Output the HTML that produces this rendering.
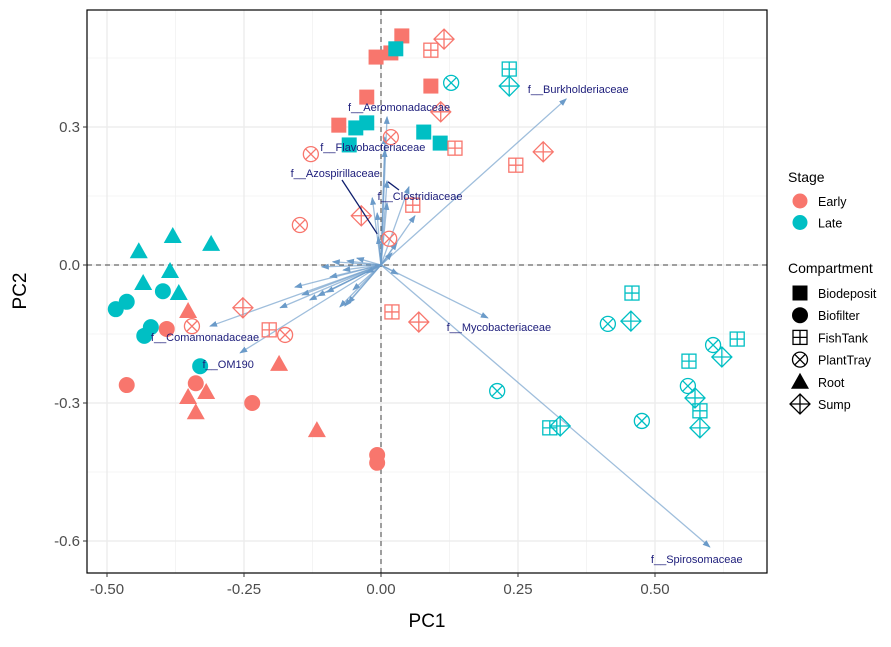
<!DOCTYPE html>
<html><head><meta charset="utf-8"><style>
body{margin:0;background:#fff;}
svg text{font-family:"Liberation Sans",Arial,sans-serif;}
</style></head><body>
<svg id="chart" width="891" height="642" xmlns="http://www.w3.org/2000/svg">
<g id="grid"></g>
<g id="refl"></g>
<g id="arrows"></g>
<g id="pts"></g>
<g id="labels"></g>
<rect x="87" y="10" width="680" height="563" fill="none" stroke="#000" stroke-width="1.2"/>
<g id="axes"></g>
<text x="427" y="627" font-size="19" text-anchor="middle" fill="#000">PC1</text>
<text x="0" y="0" font-size="19" text-anchor="middle" fill="#000" transform="translate(26,291) rotate(-90)">PC2</text>
<g id="legend"></g>
</svg>
<script>
const xTicks=[-0.5,-0.25,0,0.25,0.5];
const xTickLabels=["-0.50","-0.25","0.00","0.25","0.50"];
const yTicks=[0.3,0,-0.3,-0.6];
const yTickLabels=["0.3","0.0","-0.3","-0.6"];
const stages=["Early","Late"];
const compartments=["Biodeposit","Biofilter","FishTank","PlantTray","Root","Sump"];
// [compartment, stage, PC1, PC2]
const earlyBiodeposit=[[0.038,0.498],[0.018,0.461],[-0.009,0.452],[-0.026,0.365],[0.091,0.389],[-0.077,0.304]];
const lateBiodeposit=[[0.027,0.470],[-0.026,0.309],[-0.046,0.298],[-0.058,0.261],[0.078,0.289],[0.108,0.265]];
const earlyBiofilter=[[-0.391,-0.139],[-0.464,-0.261],[-0.338,-0.257],[-0.235,-0.300],[-0.007,-0.413],[-0.007,-0.430]];
const lateBiofilter=[[-0.484,-0.096],[-0.464,-0.080],[-0.398,-0.057],[-0.420,-0.135],[-0.432,-0.154],[-0.330,-0.220]];
const earlyRoot=[[-0.352,-0.100],[-0.186,-0.215],[-0.352,-0.287],[-0.319,-0.276],[-0.338,-0.320],[-0.117,-0.359]];
const lateRoot=[[-0.442,0.030],[-0.380,0.063],[-0.310,0.046],[-0.385,-0.013],[-0.434,-0.039],[-0.369,-0.061]];
const earlyFishTank=[[0.091,0.467],[0.135,0.254],[0.246,0.217],[0.058,0.130],[0.020,-0.102],[-0.204,-0.141]];
const lateFishTank=[[0.234,0.426],[0.458,-0.061],[0.650,-0.161],[0.562,-0.209],[0.582,-0.317],[0.308,-0.354]];
const earlyPlantTray=[[-0.128,0.241],[0.018,0.278],[-0.148,0.087],[0.015,0.057],[-0.345,-0.133],[-0.175,-0.152]];
const latePlantTray=[[0.128,0.396],[0.414,-0.128],[0.606,-0.174],[0.560,-0.263],[0.476,-0.339],[0.212,-0.274]];
const earlySump=[[0.115,0.491],[0.109,0.333],[0.296,0.246],[-0.036,0.107],[-0.252,-0.093],[0.069,-0.124]];
const lateSump=[[0.234,0.389],[0.456,-0.122],[0.622,-0.200],[0.573,-0.289],[0.582,-0.354],[0.327,-0.350]];
const loadingNames=["f__Burkholderiaceae","f__Spirosomaceae","f__Mycobacteriaceae","f__Comamonadaceae","f__OM190","f__Aeromonadaceae","f__Flavobacteriaceae","f__Clostridiaceae","f__Azospirillaceae"];
const loadingPC1=[0.338,0.600,0.195,-0.312,-0.257,0.011,0.007,0.011,-0.005];
const loadingPC2=[0.361,-0.613,-0.115,-0.133,-0.191,0.322,0.278,0.183,0.061];
const otherLoadings=[[-0.157,-0.048],[-0.184,-0.093],[-0.144,-0.065],[-0.115,-0.067],[-0.099,-0.059],[-0.075,-0.091],[-0.066,-0.089],[-0.051,-0.054],[-0.108,-0.004],[-0.088,0.007],[-0.062,0.009],[-0.044,0.015],[-0.069,-0.011],[-0.093,-0.026],[-0.026,-0.017],[0.031,-0.020],[0.020,0.026],[0.029,0.048],[0.062,0.107],[-0.007,0.113],[0.011,0.135],[-0.016,0.146],[0.051,0.170],[-0.060,-0.083],[-0.130,-0.076],[0.007,0.250]];

const NS="http://www.w3.org/2000/svg";
const X=v=>381+v*548, Y=v=>265-v*460;
const L=87,R=767,T=10,B=573;
const col={Early:"#F8766D",Late:"#00BFC4"};
function mk(tag,attrs,parent){const e=document.createElementNS(NS,tag);for(const k in attrs)e.setAttribute(k,attrs[k]);parent.appendChild(e);return e;}
const grid=document.getElementById('grid');
[-0.375,-0.125,0.125,0.375,0.625].forEach(v=>{const e=mk('line',{x1:X(v),x2:X(v),y1:T,y2:B,stroke:"#f2f2f2","stroke-width":0.8},grid);});
[0.45,0.15,-0.15,-0.45].forEach(v=>{const e=mk('line',{x1:L,x2:R,y1:Y(v),y2:Y(v),stroke:"#f2f2f2","stroke-width":0.8},grid);});
xTicks.forEach(v=>{const e=mk('line',{x1:X(v),x2:X(v),y1:T,y2:B,stroke:"#ebebeb","stroke-width":1.3},grid);});
yTicks.forEach(v=>{const e=mk('line',{x1:L,x2:R,y1:Y(v),y2:Y(v),stroke:"#ebebeb","stroke-width":1.3},grid);});
const refl=document.getElementById('refl');
let e1=mk('line',{x1:X(0),x2:X(0),y1:T,y2:B,stroke:"#444","stroke-dasharray":"5,4","stroke-width":1},refl);

let e2=mk('line',{x1:L,x2:R,y1:Y(0),y2:Y(0),stroke:"#444","stroke-dasharray":"5,4","stroke-width":1},refl);

const axes=document.getElementById('axes');
xTicks.forEach((v,i)=>{mk('line',{x1:X(v),x2:X(v),y1:B,y2:B+4,stroke:"#333"},axes);const t=mk('text',{x:X(v),y:B+21,"font-size":15,"text-anchor":"middle",fill:"#4d4d4d"},axes);t.textContent=xTickLabels[i];});
yTicks.forEach((v,i)=>{mk('line',{x1:L-4,x2:L,y1:Y(v),y2:Y(v),stroke:"#333"},axes);const t=mk('text',{x:L-7,y:Y(v)+5,"font-size":15,"text-anchor":"end",fill:"#4d4d4d"},axes);t.textContent=yTickLabels[i];});
// arrows
const ar=document.getElementById('arrows');
const defs=mk('defs',{},ar);
const m=mk('marker',{id:"ah",markerWidth:8,markerHeight:8,refX:7,refY:4,orient:"auto",markerUnits:"userSpaceOnUse"},defs);
mk('path',{d:"M0,1 L8,4 L0,7 Z",fill:"#6b9bc9"},m);
function arrow(x,y){const e=mk('line',{x1:X(0),y1:Y(0),x2:X(x),y2:Y(y),stroke:"#6b9bc9","stroke-opacity":0.65,"stroke-width":1.3,"marker-end":"url(#ah)"},ar);return e;}
otherLoadings.forEach(p=>{const e=arrow(p[0],p[1]);});
loadingNames.forEach((n,i)=>{const e=arrow(loadingPC1[i],loadingPC2[i]);});
// points
const pts=document.getElementById('pts');
function shape(c,x,y,color){const g=mk('g',{},pts);const cx=X(x),cy=Y(y);const sw=1.3;
 if(c==="Biodeposit")mk('rect',{x:cx-7.5,y:cy-7.5,width:15,height:15,fill:color},g);
 else if(c==="Biofilter")mk('circle',{cx:cx,cy:cy,r:8,fill:color},g);
 else if(c==="Root")mk('path',{d:`M${cx},${cy-9} L${cx+9},${cy+7} L${cx-9},${cy+7} Z`,fill:color},g);
 else if(c==="FishTank"){mk('rect',{x:cx-7,y:cy-7,width:14,height:14,fill:"none",stroke:color,"stroke-width":sw},g);mk('path',{d:`M${cx-7},${cy} H${cx+7} M${cx},${cy-7} V${cy+7}`,stroke:color,"stroke-width":sw},g);}
 else if(c==="PlantTray"){mk('circle',{cx:cx,cy:cy,r:7.5,fill:"none",stroke:color,"stroke-width":sw},g);mk('path',{d:`M${cx-5.3},${cy-5.3} L${cx+5.3},${cy+5.3} M${cx+5.3},${cy-5.3} L${cx-5.3},${cy+5.3}`,stroke:color,"stroke-width":sw},g);}
 else if(c==="Sump"){mk('path',{d:`M${cx},${cy-10} L${cx+10},${cy} L${cx},${cy+10} L${cx-10},${cy} Z M${cx-10},${cy} H${cx+10} M${cx},${cy-10} V${cy+10}`,fill:"none",stroke:color,"stroke-width":sw},g);}
 return g;}
const groups=[["Biodeposit","Early",earlyBiodeposit],["Biodeposit","Late",lateBiodeposit],["Biofilter","Early",earlyBiofilter],["Biofilter","Late",lateBiofilter],["Root","Early",earlyRoot],["Root","Late",lateRoot],["FishTank","Early",earlyFishTank],["FishTank","Late",lateFishTank],["PlantTray","Early",earlyPlantTray],["PlantTray","Late",latePlantTray],["Sump","Early",earlySump],["Sump","Late",lateSump]];
groups.forEach(gr=>gr[2].forEach(p=>{const g=shape(gr[0],p[0],p[1],col[gr[1]]);}));
// labels (offsets in px from arrow tip)
const labOff=[[12,-10],[-13,12],[11,9],[-5,11],[-12,11],[12,-10],[-12,10],[33,15],[-43,-64]];
const lab=document.getElementById('labels');
loadingNames.forEach((n,i)=>{const t=mk('text',{x:X(loadingPC1[i])+labOff[i][0],y:Y(loadingPC2[i])+labOff[i][1]+4,"font-size":11,"text-anchor":"middle",fill:"#1c1c7a"},lab);t.textContent=n;});
let c1=mk('line',{x1:342,y1:180,x2:X(loadingPC1[8])-1,y2:Y(loadingPC2[8])-3,stroke:"#0f1f6e","stroke-width":1.3},lab);

let c2=mk('line',{x1:X(loadingPC1[7])+1,y1:Y(loadingPC2[7])+1,x2:399,y2:190,stroke:"#0f1f6e","stroke-width":1.3},lab);

// legend
const lg=document.getElementById('legend');
let t1=mk('text',{x:788,y:182,"font-size":14,fill:"#000"},lg);t1.textContent="Stage";

stages.forEach((s,i)=>{const y=201+i*21.5;mk('circle',{cx:800,cy:y,r:7.5,fill:col[s]},lg);const t=mk('text',{x:818,y:y+5,"font-size":12.5,fill:"#000"},lg);t.textContent=s;});
let t2=mk('text',{x:788,y:273,"font-size":14,fill:"#000"},lg);t2.textContent="Compartment";

const savedPts=pts;
compartments.forEach((c,i)=>{const y=293+i*22.2;const g=shape(c,(800-381)/548,(265-y)/460,"#000");lg.appendChild(g);const t=mk('text',{x:818,y:y+5,"font-size":12.5,fill:"#000"},lg);t.textContent=c;});
</script>
</body></html>
